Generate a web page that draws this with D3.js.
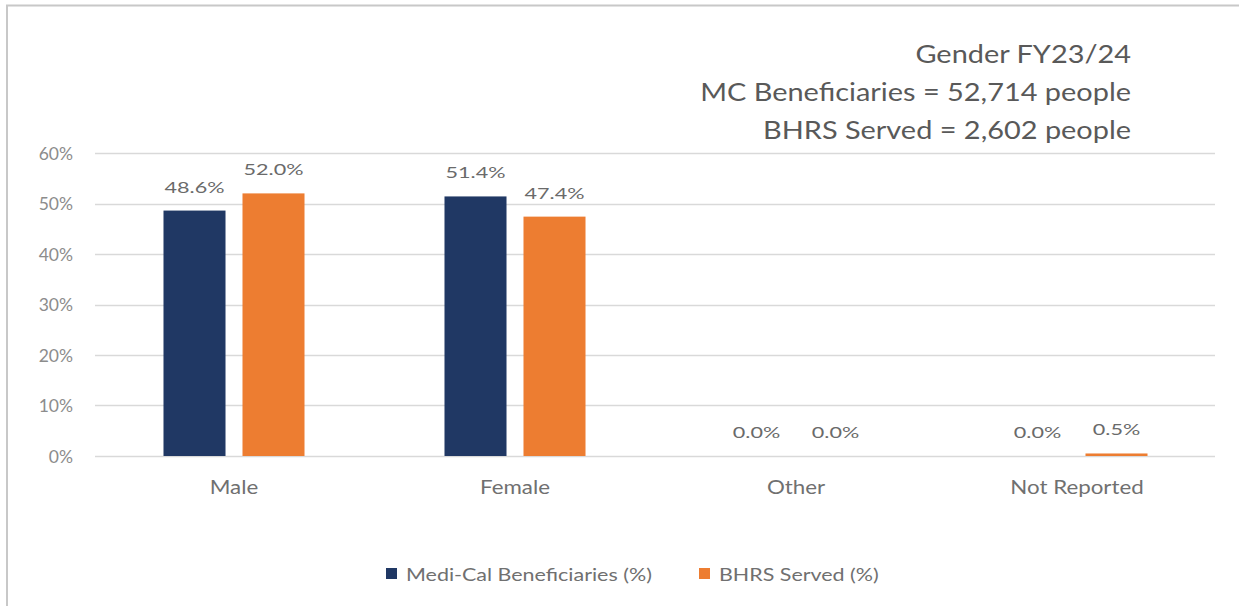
<!DOCTYPE html>
<html>
<head>
<meta charset="utf-8">
<script src="https://cdn.jsdelivr.net/npm/d3@7/dist/d3.min.js"></script>
<style>
  html, body { margin: 0; padding: 0; background: #fff; }
  svg { display: block; font-family: Lato, "Open Sans", sans-serif; }
</style>
</head>
<body>
<svg id="chart" width="1239" height="606"></svg>
<script>
// Gender distribution, FY23/24
const categories = ["Male", "Female", "Other", "Not Reported"];
const seriesNames = ["Medi-Cal Beneficiaries (%)", "BHRS Served (%)"];
const mediCalValues = [0.486, 0.514, 0.0, 0.0];
const bhrsValues = [0.520, 0.474, 0.0, 0.005];
const yTicks = [0, 0.1, 0.2, 0.3, 0.4, 0.5, 0.6];
const titleLines = ["Gender FY23/24", "MC Beneficiaries = 52,714 people", "BHRS Served = 2,602 people"];
const seriesColors = ["#203864", "#ED7D31"];

const svg = d3.select("#chart");
const W = 1239, H = 606;

// Places a set of texts at (x, y) and stretches them horizontally so that
// the sample text (index i) spans the given width.
function placeStretched(sel, xFn, yFn, sampleIndex, targetWidth) {
  const nodes = sel.nodes();
  const sx = targetWidth / nodes[sampleIndex].getComputedTextLength();
  sel.attr("x", 0).attr("y", 0)
    .attr("transform", (d, i) => `translate(${xFn(d, i)},${yFn(d, i)}) scale(${sx},1)`);
}

// chart frame
svg.append("path")
  .attr("d", `M7,${H} V5.5 H${W}`)
  .attr("fill", "none")
  .attr("stroke", "#c8c8c8")
  .attr("stroke-width", 2);

const x0 = 93.5, x1 = 1217.5, yTop = 153, yBot = 456;

const x = d3.scaleBand().domain(categories).range([x0, x1]).padding(0);
const xs = d3.scaleBand().domain(seriesNames).range([0, x.bandwidth()])
  .paddingInner(0.215).paddingOuter(0.886);
const y = d3.scaleLinear().domain([0, 0.6]).range([yBot, yTop]);

// gridlines
svg.append("g")
  .selectAll("line")
  .data(yTicks)
  .join("line")
  .attr("x1", 95).attr("x2", 1215)
  .attr("y1", d => Math.round(y(d)) + 0.5)
  .attr("y2", d => Math.round(y(d)) + 0.5)
  .attr("stroke", "#d9d9d9")
  .attr("stroke-width", 1.3);

// y axis labels
const yAxis = d3.axisLeft(y).tickValues(yTicks).tickFormat(d3.format(".0%")).tickSize(0).tickPadding(0);
const gy = svg.append("g").attr("transform", "translate(73,0)").call(yAxis);
gy.select(".domain").remove();
gy.selectAll("text")
  .attr("fill", "#8c8c8c")
  .attr("dy", "0.36em")
  .style("font-size", "17.5px")
  .style("font-family", "Lato, sans-serif");

// x axis labels
const xAxis = d3.axisBottom(x).tickSize(0).tickPadding(0);
const gx = svg.append("g").attr("transform", "translate(0,494)").call(xAxis);
gx.select(".domain").remove();
gx.selectAll("text")
  .attr("dy", 0)
  .attr("fill", "#707070")
  .style("font-size", "19px")
  .style("font-family", "Lato, sans-serif");
placeStretched(gx.selectAll(".tick text"), () => 0, () => 0, 1, 70);

// bars and value labels
const rows = [];
categories.forEach((c, i) => {
  rows.push({ cat: c, series: seriesNames[0], value: mediCalValues[i], color: seriesColors[0] });
  rows.push({ cat: c, series: seriesNames[1], value: bhrsValues[i], color: seriesColors[1] });
});

svg.append("g")
  .selectAll("rect")
  .data(rows)
  .join("rect")
  .attr("x", d => x(d.cat) + xs(d.series))
  .attr("width", xs.bandwidth())
  .attr("y", d => y(d.value))
  .attr("height", d => y(0) - y(d.value))
  .attr("fill", d => d.color);

const valueLabels = svg.append("g")
  .selectAll("text")
  .data(rows)
  .join("text")
  .attr("text-anchor", "middle")
  .attr("fill", "#6a6a6a")
  .style("font-size", "16px")
  .text(d => d3.format(".1%")(d.value));
placeStretched(valueLabels,
  d => x(d.cat) + xs(d.series) + xs.bandwidth() / 2,
  d => y(d.value) - 18, 1, 60);

// title block, right aligned
const titles = svg.append("g")
  .selectAll("text")
  .data(titleLines)
  .join("text")
  .attr("text-anchor", "end")
  .attr("fill", "#595959")
  .style("font-size", "25px")
  .text(d => d);
placeStretched(titles, () => 1131, (d, i) => 63 + i * 38, 1, 431);

// legend
const legendItems = [
  { name: seriesNames[0], color: seriesColors[0], x: 386 },
  { name: seriesNames[1], color: seriesColors[1], x: 699 }
];
const li = svg.append("g").attr("transform", "translate(0,574)")
  .selectAll("g").data(legendItems).join("g")
  .attr("transform", d => `translate(${d.x},0)`);
li.append("rect").attr("x", 0).attr("y", -6).attr("width", 11).attr("height", 11).attr("fill", d => d.color);
const legendText = li.append("text")
  .attr("fill", "#707070")
  .style("font-size", "18px")
  .text(d => d.name);
placeStretched(legendText, () => 20, () => 6.5, 0, 246);
</script>
</body>
</html>
